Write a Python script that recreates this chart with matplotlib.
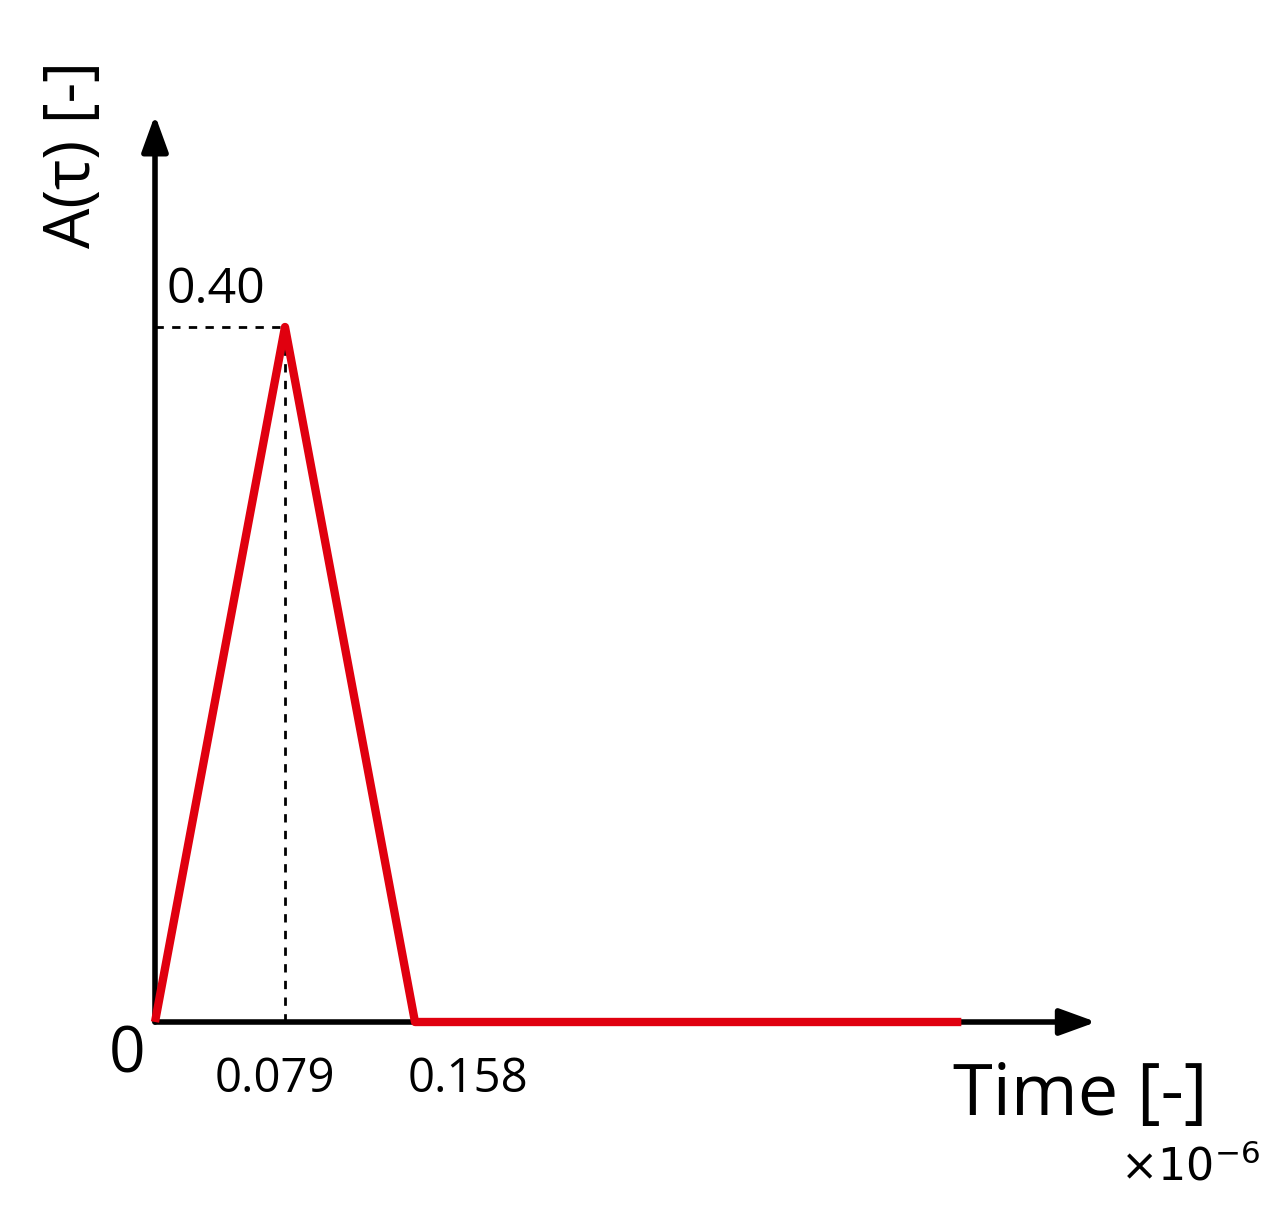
import matplotlib
matplotlib.use("Agg")
import matplotlib.pyplot as plt

t = [0.0, 0.079, 0.158, 0.49]
A = [0.0, 0.40, 0.0, 0.0]
xticks = [0.079, 0.158]
xtick_labels = ["0.079", "0.158"]

plt.rcParams['font.family'] = ['Open Sans', 'DejaVu Sans']
fig = plt.figure(figsize=(12.79, 12.30), dpi=100)
ax = fig.add_axes([0, 0, 1, 1])
sx = 0.079 / 130.0
sy = 0.40 / 695.0
ax.set_xlim(-155 * sx, (1279 - 155) * sx)
ax.set_ylim(-(1230 - 1022) * sy, 1022 * sy)
ax.axis('off')

ax.annotate('', xy=(0.572, 0), xytext=(0, 0),
            arrowprops=dict(arrowstyle='-|>,head_length=2.2,head_width=0.8', lw=4, color='black', shrinkA=0, shrinkB=0))
ax.annotate('', xy=(0, 0.522), xytext=(0, 0),
            arrowprops=dict(arrowstyle='-|>,head_length=2.2,head_width=0.8', lw=4, color='black', shrinkA=0, shrinkB=0))

ax.plot([0, t[1]], [A[1], A[1]], ls=(0, (3, 3)), color='black', lw=2)
ax.plot([t[1], t[1]], [0, A[1]], ls=(0, (3, 3)), color='black', lw=2)

ax.plot(t, A, color='#e0000f', lw=6, solid_joinstyle='round', solid_capstyle='butt', zorder=5)

offs = [-10 * sx, 53 * sx]
for xv, lab, o in zip(xticks, xtick_labels, offs):
    ax.text(xv + o, -0.033, lab, fontsize=34, ha='center', va='center')
ax.text(-28 * sx, -0.019, "0", fontsize=46, ha='center', va='center')
ax.text(12 * sx, 0.421, "0.40", fontsize=36, ha='left', va='center')
ax.text(-82 * sx, 0.499, "A(τ) [-]", fontsize=46, rotation=90, ha='center', va='center')
ax.text(925 * sx, -0.043, "Time [-]", fontsize=52, ha='center', va='center')
ax.text(1035 * sx, -0.085, r"$\times10^{-6}$", fontsize=32, ha='center', va='center')

fig.savefig("out.png", dpi=100)
